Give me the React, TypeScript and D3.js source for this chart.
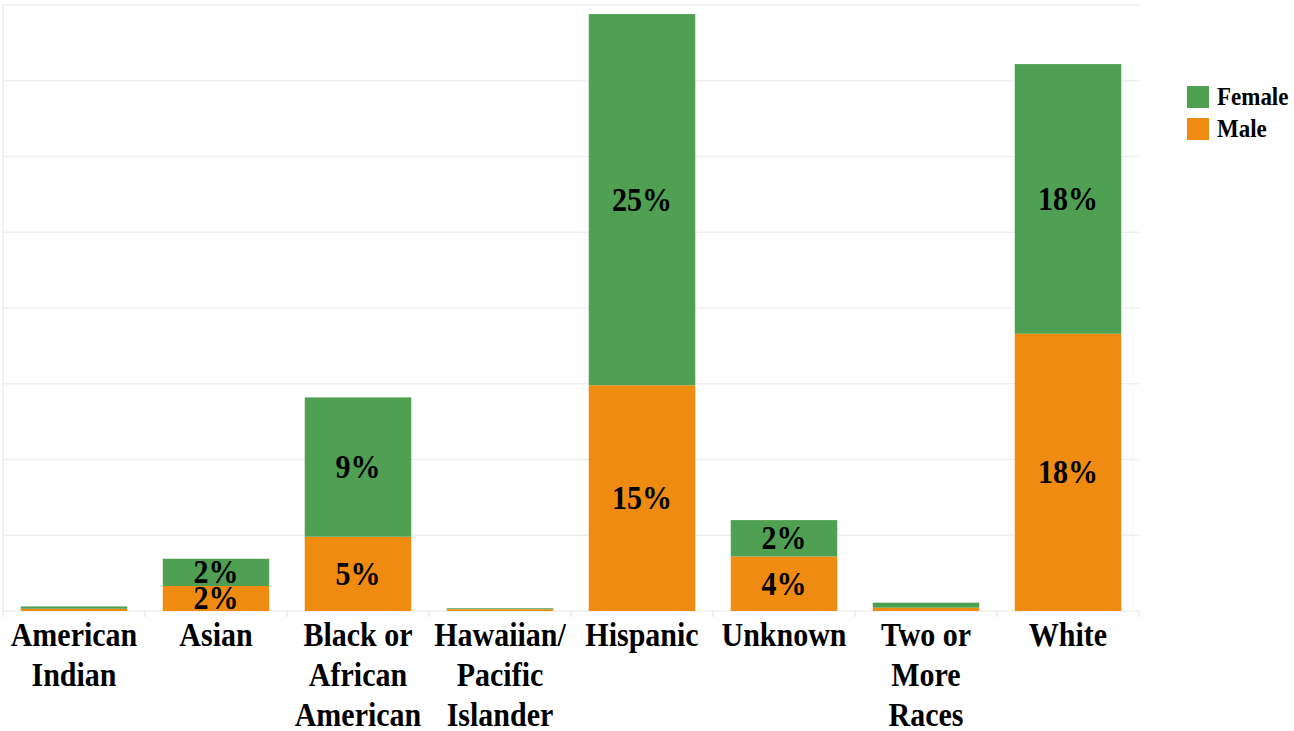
import React, { useEffect } from "react";
import * as d3 from "d3";

const categories = [
  ["American", "Indian"],
  ["Asian"],
  ["Black or", "African", "American"],
  ["Hawaiian/", "Pacific", "Islander"],
  ["Hispanic"],
  ["Unknown"],
  ["Two or", "More", "Races"],
  ["White"],
];
const categoryKeys = ["American Indian", "Asian", "Black or African American", "Hawaiian/Pacific Islander", "Hispanic", "Unknown", "Two or More Races", "White"];
const maleValues = [0.15, 1.65, 4.9, 0.12, 14.9, 3.6, 0.22, 18.3];
const femaleValues = [0.15, 1.8, 9.2, 0.06, 24.5, 2.4, 0.33, 17.8];
const gridTicks = [0, 5, 10, 15, 20, 25, 30, 35, 40];
const seriesNames = ["Female", "Male"];

const W = 1294;
const H = 731;
const FEMALE = "#4FA052";
const MALE = "#EF8B10";
const FONT = "'Liberation Serif', 'Times New Roman', serif";
const STRETCH = 1.1;

export default function App() {
  useEffect(() => {
    document.body.style.margin = "0";
  }, []);

  const x = d3.scaleBand<string>().domain(categoryKeys).range([3, 1139]).paddingInner(0.25).paddingOuter(0.125);
  const y = d3.scaleLinear().domain([0, 40]).range([611, 5]);
  const color = d3.scaleOrdinal<string, string>().domain(seriesNames).range([FEMALE, MALE]);

  const rows = categoryKeys.map((k, i) => ({ key: k, Male: maleValues[i], Female: femaleValues[i] }));
  const stack = d3.stack<any>().keys(["Male", "Female"]);
  const series = stack(rows);

  const step = x.step();
  const boundaries = categoryKeys.map((k) => (x(k) as number) - (step - x.bandwidth()) / 2).concat([1139]);
  const cx = (i: number) => (x(categoryKeys[i]) as number) + x.bandwidth() / 2;

  return (
    <svg width={W} height={H} style={{ display: "block", background: "#fff" }}>
      {gridTicks.map((t) => (
        <line key={t} x1={3} x2={1139} y1={y(t)} y2={y(t)} stroke="#efefef" strokeWidth={1.5} />
      ))}
      <line x1={3} x2={3} y1={y(40)} y2={y(0)} stroke="#e8e8e8" strokeWidth={1.2} />
      {boundaries.map((b, i) => (
        <line key={i} x1={b} x2={b} y1={y(0)} y2={y(0) + 6} stroke="#e6e6e6" strokeWidth={1.2} />
      ))}
      {series.map((s) => (
        <g key={s.key} fill={color(s.key)}>
          {s.map((d, i) => (
            <rect
              key={i}
              x={x(categoryKeys[i])}
              width={x.bandwidth()}
              y={y(d[1])}
              height={y(d[0]) - y(d[1])}
            />
          ))}
        </g>
      ))}
      {series.map((s) => (
        <g key={"l" + s.key}>
          {s.map((d, i) => {
            const v = d[1] - d[0];
            if (v < 1) return null;
            const cy = (y(d[0]) + y(d[1])) / 2;
            return (
              <text
                key={i}
                transform={`translate(${cx(i)}, ${cy}) scale(1, ${STRETCH})`}
                textAnchor="middle"
                dominantBaseline="central"
                fontFamily={FONT}
                fontWeight="bold"
                fontSize={30}
                fill="#000"
              >
                {Math.round(v) + "%"}
              </text>
            );
          })}
        </g>
      ))}
      {categories.map((lines, i) => (
        <g key={i}>
          {lines.map((ln, j) => (
            <text
              key={j}
              transform={`translate(${cx(i)}, ${646 + j * 40}) scale(1, ${STRETCH})`}
              textAnchor="middle"
              fontFamily={FONT}
              fontWeight="bold"
              fontSize={30}
              fill="#000"
            >
              {ln}
            </text>
          ))}
        </g>
      ))}
      {seriesNames.map((n, i) => (
        <g key={n} transform={`translate(1187, ${86 + i * 32})`}>
          <rect width={22} height={22} fill={color(n)} />
          <text
            transform={`translate(30, 19) scale(1, ${STRETCH})`}
            fontFamily={FONT}
            fontWeight="bold"
            fontSize={23}
            fill="#000"
          >
            {n}
          </text>
        </g>
      ))}
    </svg>
  );
}
